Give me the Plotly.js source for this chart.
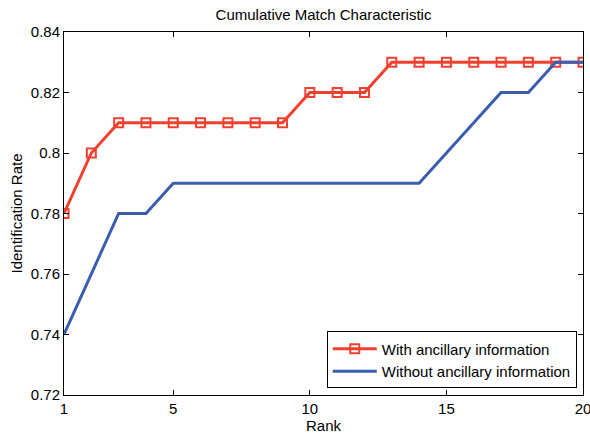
<!DOCTYPE html>
<html><head><meta charset="utf-8">
<script src="https://cdn.plot.ly/plotly-3.0.1.min.js"></script>
<style>html,body{margin:0;padding:0;background:#fff;}#chart{width:590px;height:435px;}</style>
</head><body><div id="chart"></div>
<script>
const ranks = [1,2,3,4,5,6,7,8,9,10,11,12,13,14,15,16,17,18,19,20];
const withAnc = [0.78,0.80,0.81,0.81,0.81,0.81,0.81,0.81,0.81,0.82,0.82,0.82,0.83,0.83,0.83,0.83,0.83,0.83,0.83,0.83];
const withoutAnc = [0.74,0.76,0.78,0.78,0.79,0.79,0.79,0.79,0.79,0.79,0.79,0.79,0.79,0.79,0.80,0.81,0.82,0.82,0.83,0.83];
const xTicks = [1,5,10,15,20];
const yTicks = [0.72,0.74,0.76,0.78,0.80,0.82,0.84];
const yTickText = ['0.72','0.74','0.76','0.78','0.8','0.82','0.84'];

const font = {family:'Liberation Sans, Arial, sans-serif', size:15, color:'#000'};
const traces = [
 {x:ranks, y:withAnc, name:'With ancillary information', mode:'lines+markers',
  line:{color:'#f2402f', width:3}, marker:{symbol:'square-open', size:9, color:'#f2402f', line:{width:2}}},
 {x:ranks, y:withoutAnc, name:'Without ancillary information', mode:'lines',
  line:{color:'#3a5dae', width:3}}
];
const axisCommon = {showgrid:false, zeroline:false, showline:true, linecolor:'#000', linewidth:1, mirror:'ticks',
  ticks:'inside', ticklen:5, tickcolor:'#000', tickfont:font, ticklabeloverflow:'allow', automargin:false};
const layout = {
  width:590, height:435, paper_bgcolor:'#fff', plot_bgcolor:'#fff',
  margin:{l:64, r:7, t:32, b:40},
  title:{text:'Cumulative Match Characteristic', font:font, xref:'paper', x:0.5, xanchor:'center', yref:'container', y:0.965, yanchor:'middle'},
  xaxis:Object.assign({}, axisCommon, {range:[1,20], tickvals:xTicks, ticktext:xTicks.map(String),
    title:{text:'Rank', font:font, standoff:0}}),
  yaxis:Object.assign({}, axisCommon, {range:[0.72,0.84], tickvals:yTicks, ticktext:yTickText,
    title:{text:'Identification Rate', font:font, standoff:4}}),
  showlegend:true,
  legend:{x:0.988, y:0.018, xanchor:'right', yanchor:'bottom', bgcolor:'#fff', bordercolor:'#000', borderwidth:1,
    font:font, tracegroupgap:0, itemwidth:44}
};
Plotly.newPlot('chart', traces, layout, {displayModeBar:false, staticPlot:true});
</script></body></html>
